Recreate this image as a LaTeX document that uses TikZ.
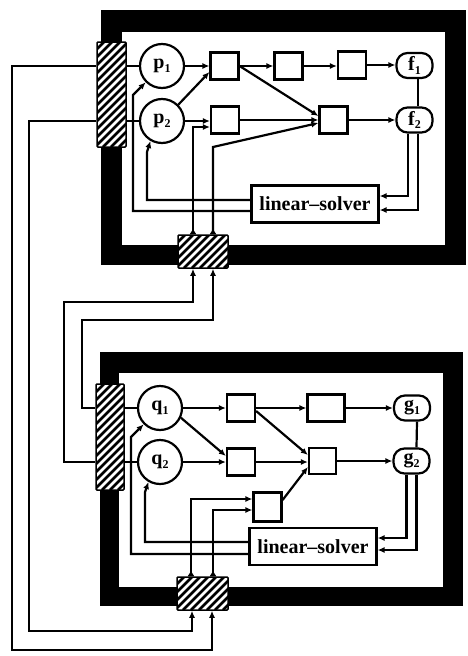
\documentclass[tikz,border=0pt]{standalone}
\usepackage{fontspec}
\setmainfont{Liberation Serif}
\usetikzlibrary{arrows.meta}
\newcommand{\sublab}[2]{#1\raisebox{-3.5pt}{\fontsize{12}{12}\selectfont #2}}
\begin{document}
\begin{tikzpicture}[x=1pt,y=-1pt,
  font=\bfseries\fontsize{20}{20}\selectfont,
  wire/.style={line width=2.2pt},
  arr/.style={wire,-{Latex[length=7pt,width=6pt]}},
  rarr/.style={wire,{Latex[reversed,length=6pt,width=7pt]}-{Latex[length=7pt,width=6pt]}},
  box/.style={draw,line width=2.2pt,minimum width=28pt,minimum height=27pt,inner sep=0pt},
  circ/.style={draw,circle,line width=2.2pt,minimum size=44pt,inner sep=0pt},
  fbox/.style={draw,rounded corners=11pt,line width=2.2pt,minimum width=36pt,minimum height=25pt,inner sep=0pt},
  solverbox/.style={draw,line width=2.2pt,minimum width=127pt,minimum height=37pt,inner sep=0pt},
  hatch/.style={draw,line width=1.5pt,fill=white,inner sep=0pt,rounded corners=1pt,
    path picture={\foreach \k in {-130,-122,...,70} {\draw[line width=2.6pt] ([xshift=\k pt]path picture bounding box.south west) -- ++(140pt,140pt);}}},
]
\useasboundingbox (0,0) rectangle (467,656);
\fill[white] (0,0) rectangle (467,656);

% ---------- frames ----------
\fill[black] (101,10) rectangle (466,265);
\fill[white] (122,32) rectangle (445,245);
\fill[black] (100,352) rectangle (463,606);
\fill[white] (119,373) rectangle (443,587);

% ---------- top diagram nodes ----------
\node[hatch,minimum width=29pt,minimum height=105pt] (hL1) at (111.5,94.5) {};
\node[hatch,minimum width=50pt,minimum height=33pt] (hB1) at (203,251.5) {};
\node[circ] (p1) at (162,66) {\sublab{p}{1}};
\node[circ] (p2) at (162,121) {\sublab{p}{2}};
\node[box] (b1) at (224.5,66) {};
\node[box] (b2) at (288.5,66) {};
\node[box] (b3) at (352,65) {};
\node[fbox] (f1) at (414.5,65.5) {\sublab{f}{1}};
\node[box] (b4) at (225,120) {};
\node[box] (b5) at (333.5,120) {};
\node[fbox] (f2) at (414.5,120) {\sublab{f}{2}};
\node[solverbox] (s1) at (315,204) {linear--solver};

% ---------- lower diagram nodes ----------
\node[hatch,minimum width=28pt,minimum height=106pt] (hL2) at (110,437) {};
\node[hatch,minimum width=51pt,minimum height=33pt] (hB2) at (202.5,593.5) {};
\node[circ] (q1) at (160,408) {\sublab{q}{1}};
\node[circ] (q2) at (160,462) {\sublab{q}{2}};
\node[box] (bA) at (241,408) {};
\node[box,minimum width=37pt] (bB) at (326,408) {};
\node[fbox] (g1) at (412,408) {\sublab{g}{1}};
\node[box] (bC) at (241,462) {};
\node[box,minimum width=27pt,minimum height=26pt] (bD) at (322.5,461) {};
\node[fbox] (g2) at (411.5,461) {\sublab{g}{2}};
\node[box,minimum height=29pt] (bE) at (267.5,507) {};
\node[solverbox] (s2) at (313,546.5) {linear--solver};

% ---------- outer wires ----------
\draw[arr] (hL1.west |- p1) -| (12,650) -| (hB2.south -| 212,0);
\draw[arr] (hL1.west |- p2) -| (29,631) -| (hB2.south -| 192,0);
\draw[arr] (hL2.west |- q2) -| (64,302) -| (hB1.south -| 193,0);
\draw[arr] (hL2.west |- q1) -| (82,320) -| (hB1.south -| 213,0);

% ---------- top diagram connectors ----------
\draw[wire] (hL1.east |- p1) -- (p1);
\draw[wire] (hL1.east |- p2) -- (p2);
\draw[arr] (p1) -- (b1);
\draw[arr] (p2.45) -- ([yshift=-6pt]b1.west);
\draw[arr] (b1) -- (b2);
\draw[arr] (b2) -- (b2 -| b3.west);
\draw[arr] (b3) -- (b3 -| f1.west);
\draw[arr] (b1.east) -- ([yshift=4pt]b5.west);
\draw[arr] (p2) -- (p2 -| b4.west);
\draw[arr] (b4) -- (b5);
\draw[arr] (b5) -- (f2);
\draw[wire] ([xshift=3.5pt]f1.south) -- ([xshift=3.5pt]f2.north);
\draw[arr] ([xshift=-6.5pt]f2.south) |- ([yshift=8pt]s1.east);
\draw[arr] ([xshift=3.5pt]f2.south) |- ([yshift=-6pt]s1.east);
\draw[arr] ([yshift=4pt]s1.west) -| (147,152) -- (p2.240);
\draw[arr] ([yshift=-7pt]s1.west) -| (133,95) -- (p1.225);
\draw[rarr] (hB1.north -| 193,0) |- ([yshift=-7pt]b4.west);
\draw[rarr] (hB1.north -| 213,0) -- (213,147) -- ([yshift=-3pt]b5.west);

% ---------- lower diagram connectors ----------
\draw[wire] (hL2.east |- q1) -- (q1);
\draw[wire] (hL2.east |- q2) -- (q2);
\draw[arr] (q1) -- (bA);
\draw[arr] (bA) -- (bB);
\draw[arr] (bB) -- (g1);
\draw[arr] (q1.-25) -- ([yshift=6pt]bC.west);
\draw[arr] (q2) -- (bC);
\draw[arr] ([yshift=-3pt]bA.east) -- ([yshift=6pt]bD.west);
\draw[arr] (bC) -- (bC -| bD.west);
\draw[arr] ([yshift=7pt]bE.east) -- ([yshift=-6pt]bD.west);
\draw[arr] (bD) -- (g2);
\draw[wire] ([xshift=5pt]g1.south) -- ([xshift=5pt]g2.north);
\draw[arr] ([xshift=-5pt]g2.south) |- ([yshift=8.5pt]s2.east);
\draw[arr] ([xshift=5pt]g2.south) |- ([yshift=-3.5pt]s2.east);
\draw[arr] ([yshift=4.5pt]s2.west) -| (145,492) -- (q2.240);
\draw[arr] ([yshift=-7.5pt]s2.west) -| (131,437) -- (q1.225);
\draw[rarr] (hB2.north -| 191,0) |- ([yshift=8pt]bE.west);
\draw[rarr] (hB2.north -| 213,0) |- ([yshift=-3pt]bE.west);
\end{tikzpicture}
\end{document}
